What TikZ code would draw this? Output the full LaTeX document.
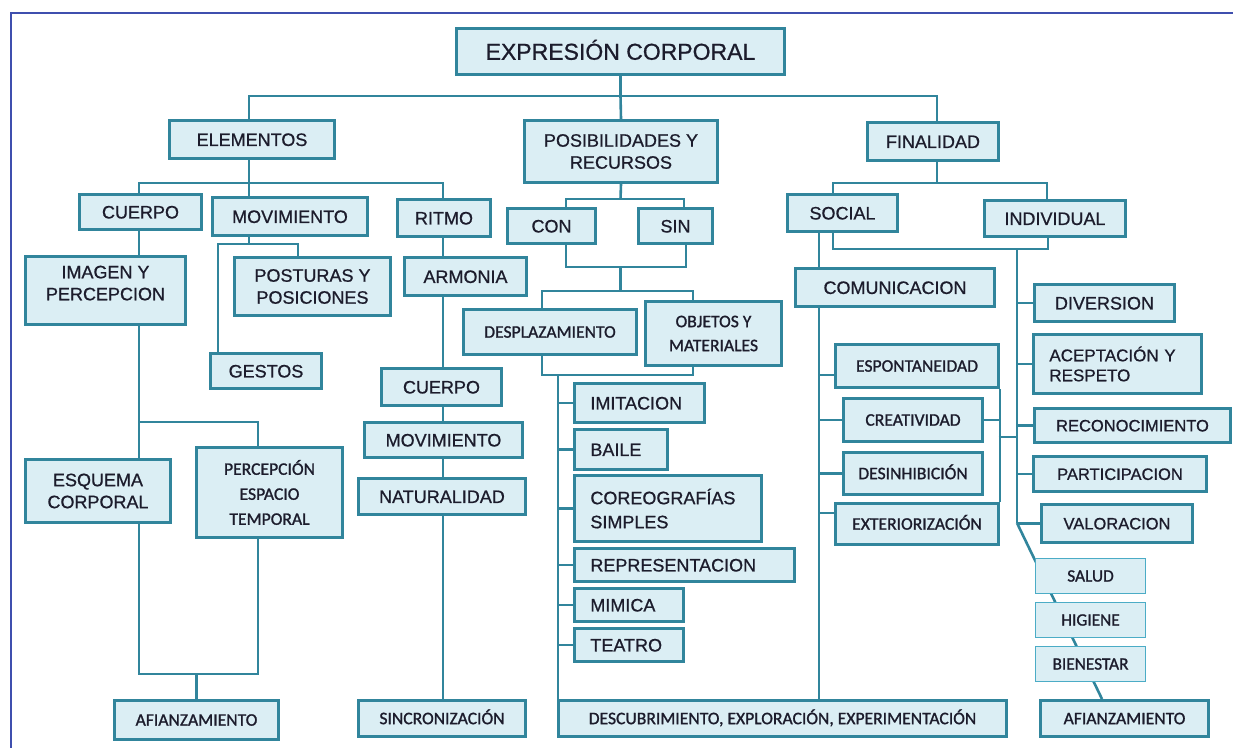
\documentclass[tikz,border=0pt]{standalone}
\usepackage{fontspec}
\setmainfont[FakeBold=0.8,AutoFakeBold=0.8]{Liberation Sans}
\newfontfamily\calib[FakeBold=1.2,AutoFakeBold=1.2]{Carlito}
\usetikzlibrary{backgrounds}
\definecolor{boxfill}{HTML}{DBEEF4}
\definecolor{boxline}{HTML}{31859C}
\definecolor{thinline}{HTML}{4BACC6}
\definecolor{framec}{HTML}{3F4FAE}
\definecolor{txt}{HTML}{1C1C2C}
\tikzset{
 box/.style={draw=boxline,fill=boxfill,line width=2.8pt,rectangle,inner xsep=2pt,inner ysep=0pt,text=txt,font=\fontsize{18}{22}\selectfont\bfseries,align=center},
 cal/.style={font=\calib\fontsize{17.6}{25}\selectfont\bfseries},
 sl/.style={text height=#1,text depth=0pt},
 sl/.default=12.9pt,
 thinbox/.style={line width=1.4pt,draw=thinline},
 conn/.style={draw=boxline,line width=2.6pt},
 thinconn/.style={draw=boxline,line width=1.2pt},
 framel/.style={draw=framec,line width=2.2pt},
}
\newcommand{\bx}[7][]{%
 \pgfmathsetmacro\qqw{#5-#3-2.8}\pgfmathsetmacro\qqh{#6-#4-2.8}%
 \pgfmathsetmacro\qqx{(#3+#5)/2}\pgfmathsetmacro\qqy{(#4+#6)/2}%
 \node[box,minimum width=\qqw pt,minimum height=\qqh pt,#1] (#2) at (\qqx,\qqy) {#7};}
\newcommand{\bxl}[7][]{%
 \pgfmathsetmacro\qqt{#5-#3-2.8-32}\pgfmathsetmacro\qqh{#6-#4-2.8}%
 \pgfmathsetmacro\qqx{(#3+#5)/2}\pgfmathsetmacro\qqy{(#4+#6)/2}%
 \node[box,align=left,text width=\qqt pt,inner xsep=16pt,minimum height=\qqh pt,#1] (#2) at (\qqx,\qqy) {#7};}
\begin{document}
\begin{tikzpicture}[x=1pt,y=-1pt]
\useasboundingbox (0,0) rectangle (1233,747);
% boxes
\bx[sl=16.5pt,font=\fontsize{23}{26}\selectfont\bfseries]{ec}{455}{27}{786}{76}{EXPRESIÓN CORPORAL}
\bx[sl]{elem}{168}{119}{336}{160}{ELEMENTOS}
\bx{pos}{523}{119}{719}{184}{POSIBILIDADES Y\\RECURSOS}
\bx[sl]{fin}{866}{121}{1000}{162}{FINALIDAD}
\bx[sl]{cuer}{78}{193}{203}{231}{CUERPO}
\bx[sl]{mov}{211}{196}{369}{237}{MOVIMIENTO}
\bx[sl]{rit}{396}{198}{492}{238}{RITMO}
\bx[sl]{con}{506}{207}{597}{245}{CON}
\bx[sl]{sin}{637}{207}{714}{245}{SIN}
\bx[sl]{soc}{786}{193}{899}{233}{SOCIAL}
\bx[sl]{ind}{983}{199}{1127}{238}{INDIVIDUAL}
\bx{img}{24}{255}{187}{326}{IMAGEN Y\\PERCEPCION\rule{0pt}{0pt}\\[-7pt]}
\bx{pst}{233}{256}{392}{317}{POSTURAS Y\\POSICIONES}
\bx[sl]{arm}{403}{256}{528}{297}{ARMONIA}
\bx[sl]{ges}{209}{352}{323}{390}{GESTOS}
\bx[sl]{com}{794}{267}{996}{308}{COMUNICACION}
\bx[cal,sl=11.3pt]{des}{462}{308}{638}{356}{DESPLAZAMIENTO}
\bx[cal,font=\calib\fontsize{17.6}{24}\selectfont\bfseries]{obj}{644}{300}{783}{367}{OBJETOS Y\\MATERIALES}
\bx[sl]{div}{1033}{283}{1176}{323}{DIVERSION}
\bxl[font=\fontsize{17}{20}\selectfont\bfseries]{acep}{1032}{333}{1203}{395}{ACEPTACIÓN Y\\RESPETO}
\bx[cal,sl=11.3pt]{esp}{834}{343}{1000}{389}{ESPONTANEIDAD}
\bx[sl]{cu2}{380}{367}{503}{407}{CUERPO}
\bxl[sl]{imi}{573}{382}{706}{424}{IMITACION}
\bx[sl=11.8pt,font=\fontsize{16.5}{20}\selectfont\bfseries]{rec}{1033}{407}{1232}{444}{RECONOCIMIENTO}
\bx[cal,sl=11.3pt]{cre}{842}{397}{984}{443}{CREATIVIDAD}
\bx[sl]{mo2}{363}{421}{524}{459}{MOVIMIENTO}
\bxl[sl]{bai}{573}{428}{669}{471}{BAILE}
\bx{esq}{24}{458}{172}{524}{ESQUEMA\\CORPORAL}
\bx[cal]{per}{195}{446}{344}{539}{PERCEPCIÓN\\ESPACIO\\TEMPORAL}
\bx[cal,sl=11.3pt]{desi}{842}{451}{984}{496}{DESINHIBICIÓN}
\bx[sl=11.8pt,font=\fontsize{16.5}{20}\selectfont\bfseries]{par}{1032}{455}{1208}{493}{PARTICIPACION}
\bx[sl]{nat}{357}{477}{527}{516}{NATURALIDAD}
\bxl[font=\fontsize{18}{24}\selectfont\bfseries]{cor}{573}{474}{763}{543}{COREOGRAFÍAS\\SIMPLES}
\bx[cal,sl=11.3pt]{ext}{834}{502}{1000}{546}{EXTERIORIZACIÓN}
\bx[sl=11.8pt,font=\fontsize{16.5}{20}\selectfont\bfseries]{val}{1040}{503}{1194}{544}{VALORACION}
\bxl[sl]{rep}{573}{547}{796}{583}{REPRESENTACION}
\bx[cal,thinbox,sl=11.1pt,font=\calib\fontsize{17.3}{20}\selectfont\bfseries]{sal}{1034}{557}{1147}{595}{SALUD}
\bxl[sl]{mim}{573}{587}{685}{623}{MIMICA}
\bx[cal,thinbox,sl=11.1pt,font=\calib\fontsize{17.3}{20}\selectfont\bfseries]{hig}{1034}{601}{1147}{639}{HIGIENE}
\bxl[sl]{tea}{573}{627}{685}{663}{TEATRO}
\bx[cal,thinbox,sl=11.1pt,font=\calib\fontsize{17.3}{20}\selectfont\bfseries]{bie}{1034}{645}{1147}{683}{BIENESTAR}
\bx[cal,sl=11.3pt]{af1}{113}{699}{280}{741}{AFIANZAMIENTO}
\bx[cal,sl=11.3pt]{sinc}{357}{699}{527}{738}{SINCRONIZACIÓN}
\bx[cal,sl=11.3pt]{desc}{557}{699}{1008}{738}{DESCUBRIMIENTO, EXPLORACIÓN, EXPERIMENTACIÓN}
\bx[cal,sl=11.3pt]{af2}{1039}{699}{1210}{738}{AFIANZAMIENTO}
% frame
\draw[framel] (11,760) -- (11,13) -- (1240,13);
\begin{pgfonlayer}{background}
\fill[white] (0,0) rectangle (1233,747);
% top level
\coordinate (t1) at (620.5,96);
\draw[conn] (ec.south) -- (t1) -- (pos.north);
\draw[conn] ([xshift=-3]elem.north) |- (t1) -| ([xshift=4]fin.north);
% ELEMENTOS
\coordinate (e1) at (249,183);
\draw[conn] ([xshift=-3]elem.south) -- (e1);
\draw[conn] ([xshift=-1.5]cuer.north) |- (e1) -| ([xshift=-1]rit.north);
\draw[conn] (e1) -- (e1 |- mov.north);
% MOVIMIENTO
\coordinate (m1) at (249,244);
\draw[conn] (e1 |- mov.south) -- (m1);
\draw[conn] ([xshift=-48]ges.north) |- (m1) -| ([xshift=-14.5]pst.north);
% CUERPO
\coordinate (c1) at (139,422);
\coordinate (c2) at (139,674);
\draw[conn] ([xshift=-1.5]cuer.south) -- (c1 |- img.north);
\draw[conn] (c1 |- img.south) -- (c1 |- esq.north);
\draw[conn] (c1) -| ([xshift=-11.5]per.north);
\draw[conn] (c1 |- esq.south) -- (c2) -| ([xshift=-11.5]per.south);
\draw[conn] (af1.north) -- (af1.north |- c2);
% RITMO
\coordinate (r1) at (443,0);
\draw[conn] (r1 |- rit.south) -- (r1 |- arm.north);
\draw[conn] (r1 |- arm.south) -- (r1 |- cu2.north);
\draw[conn] (r1 |- cu2.south) -- (r1 |- mo2.north);
\draw[conn] (r1 |- mo2.south) -- (r1 |- nat.north);
\draw[conn] (r1 |- nat.south) -- (r1 |- sinc.north);
% POSIBILIDADES
\coordinate (p1) at (620.5,199);
\draw[conn] (pos.south) -- (p1);
\draw[conn] ([xshift=14.5]con.north) |- (p1) -| ([xshift=8.5]sin.north);
\coordinate (p2) at (620.5,267);
\coordinate (p3) at (620.5,291);
\draw[conn] ([xshift=14.5]con.south) |- (p2) -| ([xshift=10.5]sin.south);
\draw[conn] (p2) -- (p3);
\draw[conn] ([xshift=-8]des.north) |- (p3) -| ([xshift=-20.5]obj.north);
\coordinate (p4) at (558,375);
\draw[conn] ([xshift=-8]des.south) |- (p4) -| ([xshift=-20.5]obj.south);
\draw[conn] (p4) -- (p4 |- desc.north);
\foreach \n in {imi,bai,cor,rep,mim,tea} \draw[conn] (\n.west) -- (\n.west -| p4);
% FINALIDAD
\coordinate (f1) at (937,183);
\draw[conn] ([xshift=4]fin.south) -- (f1);
\draw[conn] ([xshift=-9.5]soc.north) |- (f1) -| ([xshift=-8]ind.north);
\coordinate (f2) at (1017,249);
\draw[conn] ([xshift=-9.5]soc.south) |- (f2) -| ([xshift=-7]ind.south);
\coordinate (f3) at (1017,523);
\draw[conn] (f2) -- (f3);
\foreach \n in {div,acep,rec,par,val} \draw[conn] (\n.west) -- (\n.west -| f2);
\draw[conn] (f3) -- ([xshift=-22.5]af2.north);
% SOCIAL
\coordinate (s1) at (819,0);
\draw[conn] (s1 |- soc.south) -- (s1 |- com.north);
\draw[conn] (s1 |- com.south) -- (s1 |- desc.north);
\draw[conn] ([yshift=-9]esp.west) -- ++(-16.4,0);
\draw[conn] (cre.west) -- (cre.west -| s1);
\draw[conn] (desi.west) -- (desi.west -| s1);
\draw[conn] ([yshift=11]ext.west) -- ++(-16.4,0);
% bracket
\draw[thinconn] (esp.south east) -- (esp.south east |- cre.east);
\draw[conn] (esp.south east |- cre.east) -- (ext.north east);
\draw[conn] (cre.east) -- (cre.east -| esp.east);
\coordinate (k1) at (998.6,437);
\draw[conn] (k1) -- (k1 -| f2);
\end{pgfonlayer}
\end{tikzpicture}
\end{document}
